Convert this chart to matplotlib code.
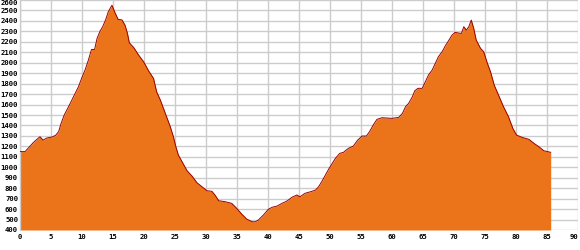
import matplotlib
matplotlib.use('Agg')
import matplotlib.pyplot as plt

# distance (km) and elevation (m)
km = [0.0, 0.9, 1.7, 2.2, 2.8, 3.3, 3.8, 4.4, 5.2, 5.8, 6.3, 6.7, 7.2, 7.9,
      8.7, 9.5, 10.0, 10.6, 11.1, 11.6, 12.1, 12.5, 13.0, 13.4, 13.9, 14.3,
      14.9, 15.4, 15.9, 16.5, 17.0, 17.4, 17.7, 18.4, 19.2, 20.0, 20.8, 21.6,
      22.1, 22.7, 23.2, 23.7, 24.3, 24.8, 25.2, 25.6, 26.2, 27.0, 27.8, 28.6,
      29.4, 30.2, 31.0, 31.5, 32.1, 33.1, 34.2, 35.0, 35.8, 36.6, 37.5, 38.0,
      38.5, 39.3, 40.1, 40.7, 41.5, 42.3, 43.1, 43.9, 44.7, 45.2, 46.0, 46.9,
      47.7, 48.2, 48.7, 49.3, 49.8, 50.4, 50.9, 51.6, 52.2, 53.0, 53.8, 54.5,
      55.2, 55.9, 56.4, 57.0, 57.6, 58.4, 60.0, 61.1, 61.7, 62.2, 62.7, 63.3,
      63.7, 64.2, 64.9, 65.4, 65.9, 66.5, 67.0, 67.5, 68.1, 68.6, 69.2, 69.7,
      70.2, 71.2, 71.6, 72.0, 72.4, 72.8, 73.2, 73.6, 74.3, 74.8, 75.4, 75.9,
      76.5, 77.2, 78.0, 78.8, 79.5, 80.1, 81.0, 82.1, 82.9, 83.7, 84.5, 85.6]
elev = [1150, 1150, 1203, 1235, 1267, 1292, 1260, 1280, 1289, 1305, 1340, 1420,
        1499, 1579, 1674, 1770, 1850, 1936, 2025, 2127, 2127, 2233, 2305, 2344,
        2414, 2487, 2550, 2477, 2414, 2410, 2360, 2280, 2190, 2146, 2073, 2009,
        1923, 1850, 1722, 1643, 1563, 1483, 1388, 1292, 1196, 1117, 1053, 967,
        916, 852, 814, 776, 770, 735, 680, 671, 655, 607, 553, 505, 479, 479,
        496, 543, 598, 617, 629, 655, 677, 713, 735, 718, 751, 766, 782, 814,
        862, 926, 980, 1038, 1085, 1133, 1143, 1181, 1203, 1260, 1299, 1299,
        1340, 1404, 1458, 1474, 1468, 1477, 1515, 1579, 1611, 1674, 1732, 1755,
        1755, 1818, 1882, 1930, 1994, 2057, 2105, 2159, 2216, 2264, 2290, 2280,
        2344, 2312, 2344, 2408, 2328, 2216, 2137, 2105, 1994, 1914, 1786, 1690,
        1579, 1483, 1372, 1308, 1286, 1267, 1229, 1196, 1158, 1143]

x_ticks = list(range(0, 91, 5))
y_ticks = list(range(400, 2601, 100))

fig = plt.figure(figsize=(5.8, 2.5), dpi=100)
ax = fig.add_axes([19.5 / 580, 20 / 250, 558.5 / 580, 230 / 250])

ax.fill_between(km, elev, 400, color='#eb731a', linewidth=0, zorder=2)
ax.plot(km, elev, color='#990000', linewidth=0.7, zorder=3)

ax.set_xlim(0, 90)
ax.set_ylim(400, 2600)
ax.set_xticks(x_ticks)
ax.set_yticks(y_ticks)
ax.grid(True, color='#cccccc', linewidth=1.0, zorder=0)
ax.set_axisbelow(True)

for side in ['top', 'right', 'bottom']:
    ax.spines[side].set_visible(False)
ax.spines['left'].set_color('#cccccc')
ax.spines['left'].set_linewidth(1.0)

ax.tick_params(length=0, labelsize=5.2)
ax.tick_params(axis='y', pad=1.0)
ax.tick_params(axis='x', pad=3.0)
for lab in ax.get_xticklabels() + ax.get_yticklabels():
    lab.set_family('DejaVu Sans Mono')
    lab.set_fontweight('bold')
ax.get_yticklabels()[-1].set_verticalalignment('top')
ax.get_xticklabels()[-1].set_horizontalalignment('right')

fig.savefig('out.png', dpi=100)
plt.close()
